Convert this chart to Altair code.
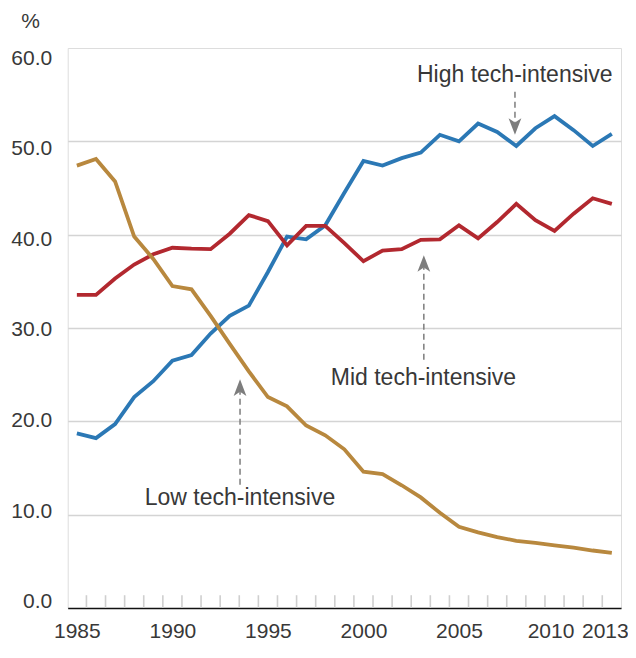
import altair as alt
import pandas as pd

# ---------------- data ----------------
years = list(range(1985, 2014))
high = [18.7, 18.2, 19.7, 22.6, 24.3, 26.5, 27.1, 29.4, 31.3, 32.4,
        36.0, 39.8, 39.5, 41.0, 44.5, 47.9, 47.4, 48.2, 48.8, 50.7,
        50.0, 51.9, 51.0, 49.5, 51.4, 52.7, 51.2, 49.5, 50.8]
mid = [33.55, 33.55, 35.3, 36.8, 37.9, 38.6, 38.5, 38.45, 40.1, 42.1,
       41.45, 38.85, 40.95, 40.95, 39.1, 37.15, 38.3, 38.45, 39.45, 39.5,
       41.0, 39.6, 41.35, 43.3, 41.55, 40.4, 42.25, 43.9, 43.3]
low = [47.4, 48.1, 45.7, 39.8, 37.4, 34.5, 34.15, 31.3, 28.3, 25.35,
       22.6, 21.6, 19.55, 18.5, 17.0, 14.6, 14.35, 13.15, 11.85, 10.2,
       8.7, 8.1, 7.6, 7.2, 6.97, 6.72, 6.47, 6.16, 5.9]

series_names = ["High tech-intensive", "Mid tech-intensive", "Low tech-intensive"]
series_colors = ["#2b78b5", "#b2282f", "#b8883e"]

x_labels = [1985, 1990, 1995, 2000, 2005, 2010, 2013]
y_labels = [0, 10, 20, 30, 40, 50, 60]
minor_ticks = [1985.5 + i for i in range(28)]

ann_text = ["High tech-intensive", "Mid tech-intensive", "Low tech-intensive"]
ann_x = [2007.92, 2003.14, 1993.54]
ann_y = [56.4, 23.94, 11.0]
arrow_x = [2007.93, 2003.16, 1993.54]
arrow_tail = [55.3, 26.6, 13.2]
arrow_end = [52.0, 36.5, 23.2]
arrow_tip = [50.7, 37.8, 24.5]
arrow_dir = ["down", "up", "up"]

FONT = "Liberation Sans"
TXT = "#383838"

# ---------------- tables ----------------
rows = []
for name, vals in zip(series_names, [high, mid, low]):
    for y, v in zip(years, vals):
        rows.append({"year": y, "value": v, "series": name})
df = pd.DataFrame(rows)

ticks_df = pd.DataFrame({"x": minor_ticks, "y0": [0.0] * len(minor_ticks),
                         "y1": [1.37] * len(minor_ticks)})
ann_df = pd.DataFrame({"text": ann_text, "x": ann_x, "y": ann_y})
arr_df = pd.DataFrame({"x": arrow_x, "tail": arrow_tail, "end": arrow_end,
                       "tip": arrow_tip, "dir": arrow_dir})

xscale = alt.Scale(domain=[1984.52, 2013.48], nice=False, zero=False)
yscale = alt.Scale(domain=[0, 60], nice=False)

x_axis = alt.Axis(values=x_labels, format="d", grid=False, ticks=False, tickSize=0,
                  domain=True, domainColor="#111111", domainWidth=1.6,
                  labelPadding=12, labelFontSize=21, labelFont=FONT, labelColor=TXT,
                  labelOffset={"expr": "datum.value == 2013 ? -7 : (datum.value == 2010 ? -4 : 0)"},
                  labelFlush=False, labelOverlap=False, title=None)
y_axis = alt.Axis(values=y_labels, format=".1f", grid=True, gridColor="#d4d4d4",
                  gridWidth=1.5,
                  gridOpacity={"expr": "datum.value == 0 || datum.value == 60 ? 0 : 1"},
                  domain=False, ticks=False, tickSize=0,
                  labelPadding=16, labelFontSize=21, labelFont=FONT, labelColor=TXT,
                  labelOffset={"expr": "-6.3 + datum.value * 0.275"},
                  title="%", titleAngle=0, titleX=-37.7, titleY=-21,
                  titleAlign="center", titleBaseline="alphabetic",
                  titleFontSize=21, titleFont=FONT, titleFontWeight="normal",
                  titleColor=TXT)

lines = alt.Chart(df).mark_line(strokeWidth=3.8).encode(
    x=alt.X("year:Q", scale=xscale, axis=x_axis),
    y=alt.Y("value:Q", scale=yscale, axis=y_axis),
    color=alt.Color("series:N", scale=alt.Scale(domain=series_names, range=series_colors),
                    legend=None),
    detail="series:N",
)

minor = alt.Chart(ticks_df).mark_rule(color="#cfcfcf", strokeWidth=1.6).encode(
    x=alt.X("x:Q", scale=xscale),
    y=alt.Y("y0:Q", scale=yscale),
    y2="y1:Q",
)

arrow_lines = alt.Chart(arr_df).mark_rule(color="#7d7d7d", strokeWidth=1.5,
                                          strokeDash=[6, 4]).encode(
    x=alt.X("x:Q", scale=xscale),
    y=alt.Y("tail:Q", scale=yscale),
    y2="end:Q",
)

down_path = "M0,0L-0.75,-1.95L0,-1.45L0.75,-1.95Z"
up_path = "M0,0L-0.75,1.95L0,1.45L0.75,1.95Z"
arrow_heads = alt.Chart(arr_df).mark_point(filled=True, size=289, opacity=1,
                                           color="#7d7d7d", strokeWidth=0).encode(
    x=alt.X("x:Q", scale=xscale),
    y=alt.Y("tip:Q", scale=yscale),
    shape=alt.Shape("dir:N", scale=alt.Scale(domain=["down", "up"],
                                              range=[down_path, up_path]),
                    legend=None),
)

labels = alt.Chart(ann_df).mark_text(font=FONT, fontSize=23, color=TXT,
                                     align="center", baseline="alphabetic").encode(
    x=alt.X("x:Q", scale=xscale),
    y=alt.Y("y:Q", scale=yscale),
    text="text:N",
)

chart = alt.layer(minor, lines, arrow_lines, arrow_heads, labels).properties(
    width=553.3, height=560,
    autosize=alt.AutoSizeParams(type="none"),
    padding={"left": 59.7, "top": 40, "right": 7, "bottom": 36},
).configure_view(stroke="#1a1a1a", strokeWidth=1.4).configure(background="white")

chart.save("out.html", embed_options={"renderer": "svg", "actions": False})
